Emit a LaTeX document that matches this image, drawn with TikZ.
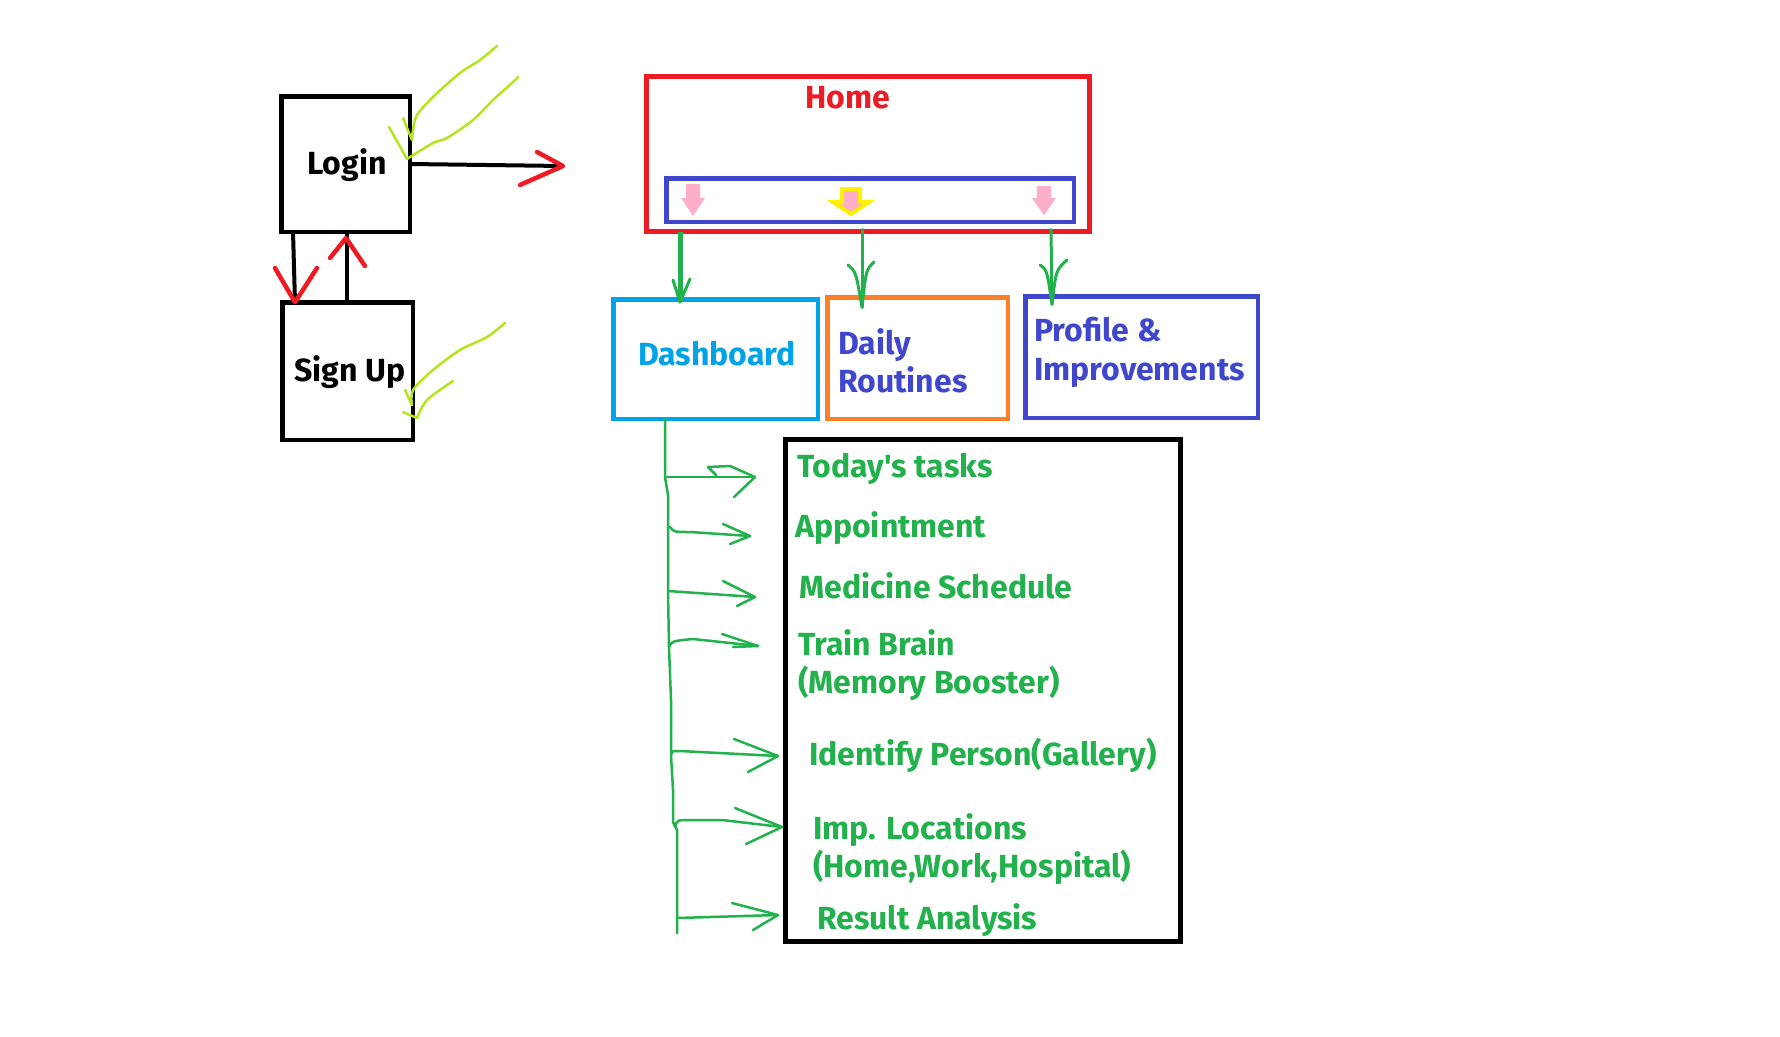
\documentclass[tikz,border=0pt]{standalone}
\usepackage{fontspec}
\setmainfont{Fira Sans}
\usetikzlibrary{arrows.meta}
\definecolor{pred}{HTML}{ED1C24}
\definecolor{pblue}{HTML}{3F48CC}
\definecolor{pcyan}{HTML}{00A2E8}
\definecolor{porange}{HTML}{FF7F27}
\definecolor{pgreen}{HTML}{22B14C}
\definecolor{plime}{HTML}{B5E61D}
\definecolor{ppink}{HTML}{FFAEC9}
\definecolor{pyellow}{HTML}{FFF200}
\begin{document}
\begin{tikzpicture}[x=1pt,y=-1pt,
  box/.style={draw, line width=4.5pt, rectangle, inner sep=0pt, outer sep=0pt},
  lbl/.style={font=\fontsize{32}{38}\selectfont\bfseries, inner sep=0pt},
  gline/.style={pgreen, line width=2.5pt, line cap=round, line join=round},
  tick/.style={plime, line width=2.5pt, line cap=round, line join=round},
  redhead/.style={pred, line width=4.5pt, line cap=round, line join=round},
  blk/.style={black, line width=4pt},
  pinkarrow/.style={fill=ppink},
]
\useasboundingbox[fill=white] (0,0) rectangle (1780,1036);

% ---------- Login / Sign Up ----------
\node[box, minimum width=128.5pt, minimum height=135.5pt] (login) at (345.5,164) {};
\node[lbl, anchor=base] (logintxt) at (347,174) {Login};
\node[box, minimum width=130.5pt, minimum height=137.5pt] (signup) at (347.5,371) {};
\node[lbl, anchor=base] (signuptxt) at (350,381) {Sign Up};

% Login -> Home
\coordinate (loginout) at (563,166);
\draw[blk] (login.east) -- (loginout);
\draw[redhead] (537,152) -- (loginout) -- (520,185);

% Login -> Sign Up
\coordinate (ls1) at ([xshift=-52.5pt]login.south);
\coordinate (ls2) at ([xshift=-52.5pt]signup.north);
\draw[blk] (ls1) -- (ls2);
\draw[redhead] (275,268) -- (ls2) -- (317,268);

% Sign Up -> Login
\coordinate (sl1) at ([xshift=-0.5pt]signup.north);
\coordinate (sl2) at (346,238);
\draw[blk] (sl1) -- ([yshift=2pt]login.south -| sl1);
\draw[redhead] (330,258) -- (sl2) -- (365,266);

% check marks
\draw[tick] (403,118) -- (412,140);
\draw[tick] plot[smooth] coordinates {(412,140) (413,130) (417,115) (433,97) (460,73) (480,60) (497,46)};
\draw[tick] (389,127) -- (407,159);
\draw[tick] plot[smooth] coordinates {(407,159) (433,143) (447,138) (473,120) (493,100) (512,83) (518,77)};
\draw[tick] (405,390) -- (412,405);
\draw[tick] plot[smooth] coordinates {(412,405) (413,390) (433,370) (460,350) (487,337) (505,323)};
\draw[tick] (403,412) -- (417,418);
\draw[tick] plot[smooth] coordinates {(417,418) (427,400) (453,381)};

% ---------- Home ----------
\node[box, draw=pred, line width=5pt, minimum width=443pt, minimum height=155pt] (home) at (868,154) {};
\node[lbl, text=pred, anchor=base] (hometxt) at (848,108) {Home};
\node[box, draw=pblue, minimum width=407.5pt, minimum height=43.5pt] (tabs) at (870,200) {};

% pink tab arrows
\fill[pinkarrow] (686,184) -- (700,184) -- (700,198) -- (705,198) -- (693,216) -- (681,198) -- (686,198) -- cycle;
\draw[pyellow, fill=ppink, line width=4pt] (842,189) -- (860,189) -- (860,202) -- (869,202) -- (851,214) -- (833,202) -- (842,202) -- cycle;
\fill[pinkarrow] (1037,186) -- (1051,186) -- (1051,198) -- (1056,198) -- (1044,215) -- (1032,198) -- (1037,198) -- cycle;

% ---------- second level boxes ----------
\node[box, draw=pcyan, minimum width=204.5pt, minimum height=119.5pt] (dash) at (715.5,359) {};
\node[lbl, text=pcyan, anchor=base] (dashtxt) at (717,365) {Dashboard};
\node[box, draw=porange, minimum width=180.5pt, minimum height=121.5pt] (daily) at (917.5,358) {};
\node[lbl, text=pblue, anchor=base west] (daily1) at (838,354) {Daily};
\node[lbl, text=pblue, anchor=base west] (daily2) at (838,392) {Routines};
\node[box, draw=pblue, minimum width=232.5pt, minimum height=121.5pt] (prof) at (1141.5,357) {};
\node[lbl, text=pblue, anchor=base west] (prof1) at (1034,341) {Profile \&};
\node[lbl, text=pblue, anchor=base west] (prof2) at (1034,380) {Improvements};

% green arrows Home -> boxes
\coordinate (g1a) at ([xshift=-188pt]home.south);
\coordinate (g1b) at ([xshift=-35.5pt,yshift=-3pt]dash.north);
\draw[pgreen, line width=5pt] (g1a) -- (g1b);
\draw[gline, line width=3pt] (673,280) -- (g1b) -- (690,279);
\coordinate (g2a) at ([xshift=-6pt,yshift=2pt]home.south);
\coordinate (g2b) at ([xshift=-55.5pt,yshift=-10pt]daily.north);
\draw[gline, line width=3pt] (g2a) -- (g2b);
\draw[gline, line width=3pt] (848,265) .. controls (856,272) .. (g2b) .. controls (866,270) .. (874,262);
\coordinate (g3a) at ([xshift=183pt,yshift=2pt]home.south);
\coordinate (g3b) at ([xshift=-89.5pt,yshift=-8pt]prof.north);
\draw[gline, line width=3pt] (g3a) -- (g3b);
\draw[gline, line width=3pt] (1040,265) .. controls (1047,270) .. (g3b) .. controls (1056,270) .. (1067,260);

% ---------- list box ----------
\node[box, line width=5pt, minimum width=395pt, minimum height=502pt] (list) at (983,690.5) {};
\begin{scope}[every node/.style={lbl, text=pgreen, anchor=base west}]
\node (i1) at (797,477) {Today\textquotesingle s tasks};
\node (i2) at (795,537) {Appointment};
\node (i3) at (799,598) {Medicine Schedule};
\node (i4a) at (798,655) {Train Brain};
\node (i4b) at (798,693) {(Memory Booster)};
\node (i5) at (809,765) {Identify Person(Gallery)};
\node (i6a) at (813,839) {Imp. Locations};
\node (i6b) at (813,877) {(Home,Work,Hospital)};
\node (i7) at (817,929) {Result Analysis};
\end{scope}

% tree
\coordinate (t0) at ([xshift=-50.5pt]dash.south);
\draw[gline] (t0) -- (665,477) -- (668,495) -- (668,591) -- (669,647) -- (671,700) -- (671,755) -- (673,790) -- (673,822) -- (677,830) -- (677,933);
\coordinate (tip1) at (755,477);
\coordinate (tip2) at (750,536);
\coordinate (tip3) at (755,597);
\coordinate (tip4) at (758,646);
\coordinate (tip5) at (778,756);
\coordinate (tip6) at (782,827);
\coordinate (tip7) at (778,915);
\draw[gline] (665,477) -- (tip1);
\draw[gline] (716,475) -- (708,467) -- (730,466) -- (tip1) -- (734,497);
\draw[gline] (670,527) .. controls (674,532) .. (690,532) -- (tip2);
\draw[gline] (723,524) -- (tip2) -- (730,544);
\draw[gline] (668,591) -- (tip3);
\draw[gline] (723,581) -- (tip3) -- (737,606);
\draw[gline] (669,647) .. controls (672,641) .. (693,639) -- (tip4);
\draw[gline] (722,634) -- (tip4) -- (733,647);
\draw[gline] (671,755) .. controls (672,751) .. (680,751) -- (tip5);
\draw[gline] (734,739) -- (tip5) -- (748,772);
\draw[gline] (675,827) .. controls (677,820) .. (690,820) -- (722,820) -- (tip6);
\draw[gline] (735,808) -- (tip6) -- (746,844);
\draw[gline] (677,918) -- (tip7);
\draw[gline] (732,903) -- (tip7) -- (753,930);
\end{tikzpicture}
\end{document}
